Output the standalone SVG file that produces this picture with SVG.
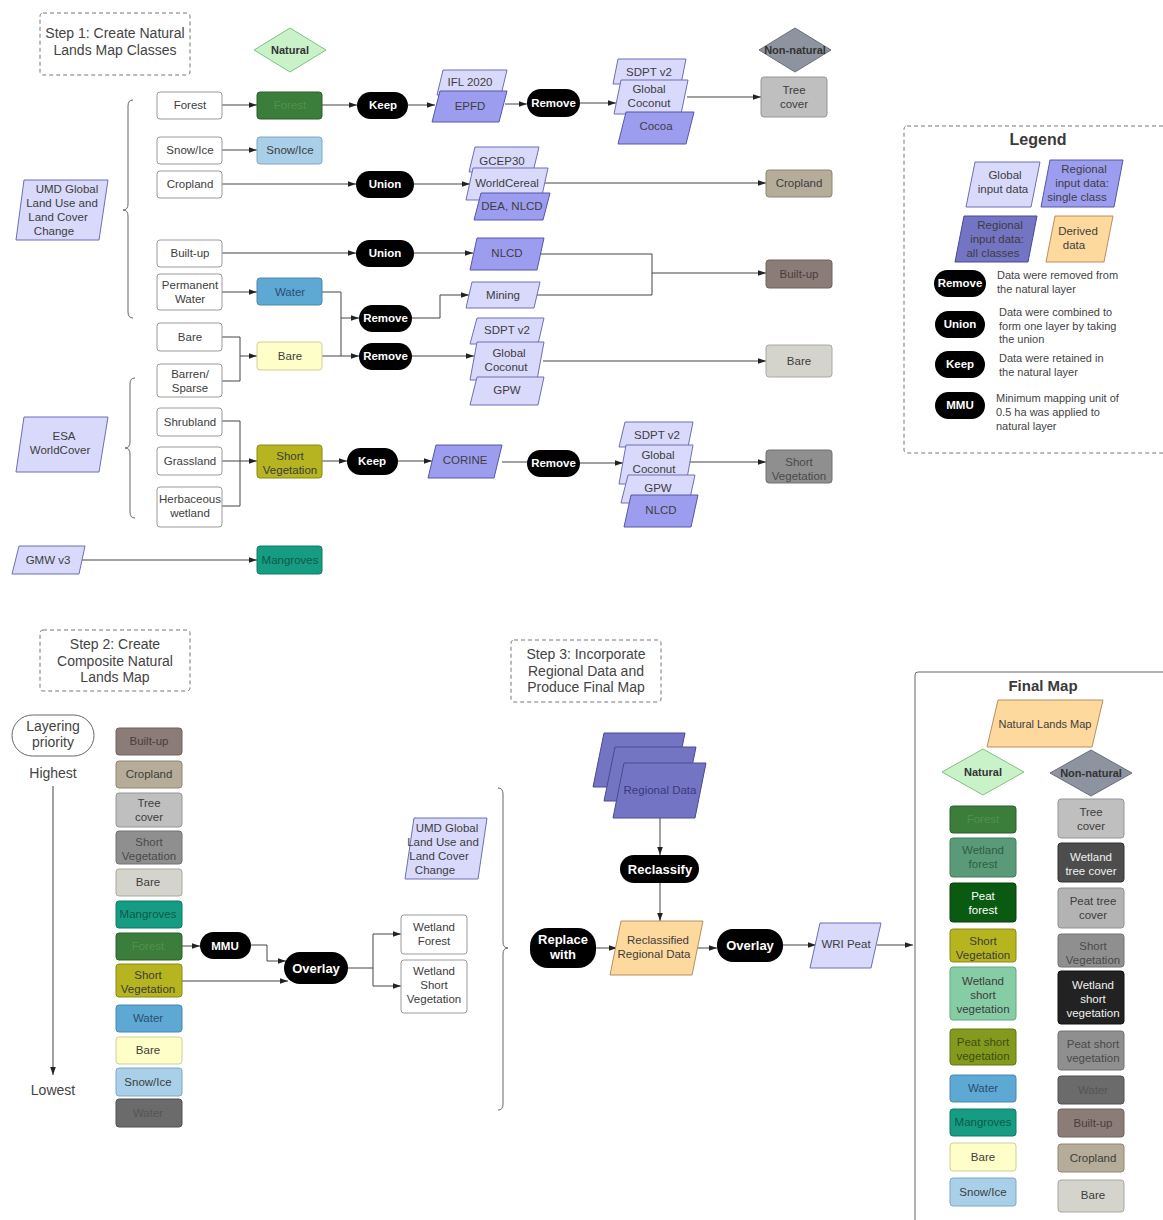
<svg xmlns="http://www.w3.org/2000/svg" width="1163" height="1220" viewBox="0 0 1163 1220">
<defs>
<marker id="ah" viewBox="0 0 10 10" refX="10" refY="5" markerWidth="8" markerHeight="8" orient="auto" markerUnits="userSpaceOnUse"><path d="M0,1.5 L10,5 L0,8.5 z" fill="#222"/></marker>
<style>
text{font-family:"Liberation Sans",Arial,sans-serif;font-size:11.5px;fill:#3d3d3d;text-anchor:middle}
.st{font-size:14px;fill:#444}
.lt{text-anchor:start;font-size:11px;fill:#444}
.w{fill:#fff;font-weight:bold;font-size:11.5px}
.bd{font-weight:bold;font-size:11px;fill:#333}
.h{font-weight:bold;font-size:16px;fill:#3a3a3a}
.box{fill:#fff;stroke:#9a9a9a}
.pill{fill:#000}
.glob{fill:#d9d9fb;stroke:#6e6eb4;stroke-linejoin:round}
.reg{fill:#9d9df0;stroke:#5656a8;stroke-linejoin:round}
.all{fill:#7474c4;stroke:#4a4a90;stroke-linejoin:round}
.der{fill:#fdd99e;stroke:#b4915e;stroke-linejoin:round}
.dash{fill:none;stroke:#777;stroke-dasharray:4 3}
.c{fill:none;stroke:#444;stroke-width:1}
.a{marker-end:url(#ah)}
.brace{fill:none;stroke:#666;stroke-width:1}
.forest{fill:#3b7d3a;stroke:#2d5e2c}
.snow{fill:#a9cfe9;stroke:#7fa8c8}
.water{fill:#5ea8d4;stroke:#4a88b0}
.bareY{fill:#fefec9;stroke:#cfcf96}
.sv{fill:#b6b51f;stroke:#8a8a10}
.mang{fill:#169c82;stroke:#0f7a64}
.tree{fill:#bfbfbf;stroke:#959595}
.crop{fill:#b5ac99;stroke:#8f8672}
.built{fill:#8c7c77;stroke:#6f625e}
.bareG{fill:#d4d4cc;stroke:#a8a8a0}
.svG{fill:#8f8f8f;stroke:#707070}
.waterG{fill:#6b6b6b;stroke:#505050}
</style>
</defs>
<rect width="1163" height="1220" fill="#fff"/>

<!-- Step 1 title -->
<g id="step1">
<rect class="dash" x="40" y="13" width="150" height="62" rx="3"/>
<text class="st" x="115" y="38">Step 1: Create Natural</text>
<text class="st" x="115" y="55">Lands Map Classes</text>
</g>
<g id="natural-top"><polygon points="254,50 290,28 326,50 290,72" fill="#c9f2c9" stroke="#80c080"/><text class="bd" x="290" y="54">Natural</text></g>
<g id="nonnatural-top"><polygon points="759,50 795,28 831,50 795,72" fill="#8e949f" stroke="#6a707a"/><text class="bd" x="795" y="54">Non-natural</text></g>

<!-- Connectors -->
<g id="connectors">
<path class="c a" d="M222,105 H257"/>
<path class="c a" d="M322,105 H357"/>
<path class="c a" d="M408,105 H435"/>
<path class="c a" d="M505,104 H527"/>
<path class="c a" d="M580,103 H616"/>
<path class="c a" d="M687,97 H761"/>
<path class="c a" d="M222,150 H257"/>
<path class="c a" d="M222,184 H356"/>
<path class="c a" d="M414,184 H470"/>
<path class="c a" d="M545,183 H766"/>
<path class="c a" d="M222,253 H356"/>
<path class="c a" d="M414,253 H473"/>
<path class="c a" d="M540,254 H652 V273 H766"/>
<path class="c" d="M536,295 H652 V273"/>
<path class="c a" d="M222,292 H257"/>
<path class="c a" d="M322,292 H341 V318 H359"/>
<path class="c a" d="M322,356 H359"/>
<path class="c" d="M341,356 V318"/>
<path class="c" d="M222,337 H240 V381 H222"/>
<path class="c a" d="M240,356 H257"/>
<path class="c a" d="M412,318 H440 V295 H469"/>
<path class="c a" d="M412,356 H474"/>
<path class="c a" d="M543,361 H766"/>
<path class="c" d="M222,421 H240 V506 H222"/>
<path class="c a" d="M222,461 H257"/>
<path class="c a" d="M322,461 H347"/>
<path class="c a" d="M398,461 H432"/>
<path class="c" d="M502,462 H527"/>
<path class="c a" d="M580,463 H623"/>
<path class="c a" d="M690,462 H766"/>
<path class="c a" d="M82,560 H257"/>
<!-- step 2 -->
<path class="c a" d="M53,786 V1075"/>
<path class="c a" d="M182,946 H200"/>
<path class="c a" d="M251,945 H267 V961 H286"/>
<path class="c a" d="M182,981 H288"/>
<path class="c" d="M348,968 H373"/>
<path class="c a" d="M373,968 V934 H401"/>
<path class="c a" d="M373,968 V986 H401"/>
<!-- step 3 -->
<path class="c a" d="M660,818 V855"/>
<path class="c a" d="M660,883 V921"/>
<path class="c a" d="M596,948 H617"/>
<path class="c a" d="M697,948 H717"/>
<path class="c a" d="M783,945 H816"/>
<path class="c a" d="M877,945 H913"/>
</g>

<!-- braces -->
<g id="braces">
<path class="brace" d="M133,100 Q128,100 128,106 L128,204 Q128,210 123,210 Q128,210 128,216 L128,312 Q128,318 133,318"/>
<path class="brace" d="M135,378 Q130,378 130,384 L130,442 Q130,448 125,448 Q130,448 130,454 L130,512 Q130,518 135,518"/>
<path class="brace" d="M498,788 Q503,788 503,794 L503,942 Q503,948 508,948 Q503,948 503,954 L503,1104 Q503,1110 498,1110"/>
</g>

<!-- Sources -->
<g id="umd1"><polygon class="glob" points="24,180 108,180 99,240 16,240"/><text x="67" y="193">UMD Global</text><text x="62" y="207">Land Use and</text><text x="58" y="221">Land Cover</text><text x="54" y="235">Change</text></g>
<g id="esa"><polygon class="glob" points="24,417 108,417 99,472 16,472"/><text x="64" y="440">ESA</text><text x="60" y="454">WorldCover</text></g>
<g id="gmw"><polygon class="glob" points="19,546 85,546 79,574 12,574"/><text x="48" y="564">GMW v3</text></g>

<!-- White class boxes -->
<g id="c-forest"><rect class="box" x="157" y="92" width="65" height="27" rx="3"/><text x="190" y="109">Forest</text></g>
<g id="c-snow"><rect class="box" x="157" y="137" width="65" height="27" rx="3"/><text x="190" y="154">Snow/Ice</text></g>
<g id="c-crop"><rect class="box" x="157" y="171" width="65" height="27" rx="3"/><text x="190" y="188">Cropland</text></g>
<g id="c-built"><rect class="box" x="157" y="240" width="65" height="27" rx="3"/><text x="190" y="257">Built-up</text></g>
<g id="c-pwater"><rect class="box" x="157" y="274" width="65" height="36" rx="3"/><text x="190" y="289">Permanent</text><text x="190" y="303">Water</text></g>
<g id="c-bare"><rect class="box" x="157" y="323" width="65" height="28" rx="3"/><text x="190" y="341">Bare</text></g>
<g id="c-barren"><rect class="box" x="157" y="364" width="65" height="33" rx="3"/><text x="190" y="378">Barren/</text><text x="190" y="392">Sparse</text></g>
<g id="c-shrub"><rect class="box" x="157" y="408" width="65" height="28" rx="3"/><text x="190" y="426">Shrubland</text></g>
<g id="c-grass"><rect class="box" x="157" y="447" width="65" height="28" rx="3"/><text x="190" y="465">Grassland</text></g>
<g id="c-herb"><rect class="box" x="157" y="487" width="65" height="40" rx="3"/><text x="190" y="503">Herbaceous</text><text x="190" y="517">wetland</text></g>

<!-- Natural classes -->
<g id="n-forest"><rect class="forest" x="257" y="92" width="65" height="27" rx="3"/><text x="290" y="109" style="fill:#54904c">Forest</text></g>
<g id="n-snow"><rect class="snow" x="257" y="137" width="65" height="27" rx="3"/><text x="290" y="154">Snow/Ice</text></g>
<g id="n-water"><rect class="water" x="257" y="278" width="65" height="27" rx="3"/><text x="290" y="296" style="fill:#2b4e70">Water</text></g>
<g id="n-bare"><rect class="bareY" x="257" y="342" width="65" height="28" rx="3"/><text x="290" y="360">Bare</text></g>
<g id="n-sv"><rect class="sv" x="257" y="445" width="65" height="33" rx="3"/><text x="290" y="460">Short</text><text x="290" y="474">Vegetation</text></g>
<g id="n-mang"><rect class="mang" x="257" y="546" width="65" height="28" rx="3"/><text x="290" y="564" style="fill:#0f5a4a">Mangroves</text></g>

<!-- Operations -->
<g id="op-keep1"><rect class="pill" x="357" y="92" width="51" height="27" rx="13.5"/><text class="w" x="383" y="109">Keep</text></g>
<g id="op-union1"><rect class="pill" x="356" y="171" width="58" height="27" rx="13.5"/><text class="w" x="385" y="188">Union</text></g>
<g id="op-union2"><rect class="pill" x="356" y="240" width="58" height="27" rx="13.5"/><text class="w" x="385" y="257">Union</text></g>
<g id="op-remove1"><rect class="pill" x="359" y="305" width="53" height="27" rx="13.5"/><text class="w" x="385.5" y="322">Remove</text></g>
<g id="op-remove2"><rect class="pill" x="359" y="343" width="53" height="27" rx="13.5"/><text class="w" x="385.5" y="360">Remove</text></g>
<g id="op-keep2"><rect class="pill" x="347" y="448" width="51" height="27" rx="13.5"/><text class="w" x="372" y="465">Keep</text></g>
<g id="op-remove3"><rect class="pill" x="527" y="89" width="53" height="28" rx="14"/><text class="w" x="553.5" y="107">Remove</text></g>
<g id="op-remove4"><rect class="pill" x="527" y="450" width="53" height="27" rx="13.5"/><text class="w" x="553.5" y="467">Remove</text></g>

<!-- Datasets -->
<g id="d-ifl"><polygon class="glob" points="443,70 507,70 501,95 437,95"/><text x="470" y="86">IFL 2020</text></g>
<g id="d-epfd"><polygon class="reg" points="440,91 507,91 499,122 432,122"/><text x="470" y="110">EPFD</text></g>
<g id="d-sdpt1"><polygon class="glob" points="618,59 686,59 681,84 613,84"/><text x="649" y="76">SDPT v2</text></g>
<g id="d-coco1"><polygon class="glob" points="621,80 688,80 681,114 614,114"/><text x="649" y="93">Global</text><text x="649" y="107">Coconut</text></g>
<g id="d-cocoa"><polygon class="reg" points="626,112 694,112 686,144 618,144"/><text x="656" y="130">Cocoa</text></g>
<g id="d-gcep"><polygon class="glob" points="475,147 539,147 533,172 469,172"/><text x="502" y="165">GCEP30</text></g>
<g id="d-wc"><polygon class="glob" points="473,168 548,168 541,200 466,200"/><text x="507" y="187">WorldCereal</text></g>
<g id="d-dea"><polygon class="reg" points="481,193 550,193 543,220 474,220"/><text x="512" y="210">DEA, NLCD</text></g>
<g id="d-nlcd1"><polygon class="reg" points="477,238 544,238 537,270 470,270"/><text x="507" y="257">NLCD</text></g>
<g id="d-mining"><polygon class="glob" points="472,282 540,282 534,308 466,308"/><text x="503" y="299">Mining</text></g>
<g id="d-sdpt2"><polygon class="glob" points="477,318 544,318 538,344 470,344"/><text x="507" y="334">SDPT v2</text></g>
<g id="d-coco2"><polygon class="glob" points="477,342 544,342 537,380 470,380"/><text x="509" y="357">Global</text><text x="506" y="371">Coconut</text></g>
<g id="d-gpw1"><polygon class="glob" points="477,377 544,377 538,405 470,405"/><text x="507" y="394">GPW</text></g>
<g id="d-corine"><polygon class="reg" points="436,445 502,445 494,478 428,478"/><text x="465" y="464">CORINE</text></g>
<g id="d-sdpt3"><polygon class="glob" points="625,422 693,422 688,447 619,447"/><text x="657" y="439">SDPT v2</text></g>
<g id="d-coco3"><polygon class="glob" points="626,445 693,445 686,484 619,484"/><text x="658" y="459">Global</text><text x="654" y="473">Coconut</text></g>
<g id="d-gpw2"><polygon class="glob" points="628,475 695,475 689,503 621,503"/><text x="658" y="492">GPW</text></g>
<g id="d-nlcd2"><polygon class="reg" points="631,495 698,495 691,527 624,527"/><text x="661" y="514">NLCD</text></g>

<!-- Non-natural outputs -->
<g id="o-tree"><rect class="tree" x="761" y="77" width="66" height="40" rx="3"/><text x="794" y="94">Tree</text><text x="794" y="108">cover</text></g>
<g id="o-crop"><rect class="crop" x="766" y="170" width="66" height="27" rx="3"/><text x="799" y="187">Cropland</text></g>
<g id="o-built"><rect class="built" x="766" y="260" width="66" height="28" rx="3"/><text x="799" y="278" style="fill:#4a3c3c">Built-up</text></g>
<g id="o-bare"><rect class="bareG" x="766" y="345" width="66" height="32" rx="3"/><text x="799" y="365">Bare</text></g>
<g id="o-sv"><rect class="svG" x="766" y="450" width="66" height="33" rx="3"/><text x="799" y="466" style="fill:#4a4a4a">Short</text><text x="799" y="480" style="fill:#4a4a4a">Vegetation</text></g>

<!-- Legend -->
<g id="legend">
<rect class="dash" x="904" y="126" width="270" height="327" rx="3"/>
<text class="h" x="1038" y="145">Legend</text>
<polygon class="glob" points="975,162 1040,162 1031,207 966,207"/><text x="1005" y="179">Global</text><text x="1003" y="193">input data</text>
<polygon class="reg" points="1050,160 1123,160 1114,207 1041,207"/><text x="1084" y="173">Regional</text><text x="1082" y="187">input data:</text><text x="1077" y="201">single class</text>
<polygon class="all" points="964,216 1037,216 1028,262 955,262"/><text x="1000" y="229">Regional</text><text x="997" y="243">input data:</text><text x="993" y="257">all classes</text>
<polygon class="der" points="1055,216 1113,216 1104,262 1046,262"/><text x="1078" y="235">Derived</text><text x="1074" y="249">data</text>
<rect class="pill" x="934" y="270" width="52" height="27" rx="13.5"/><text class="w" x="960" y="287">Remove</text>
<text class="lt" x="997" y="279">Data were removed from</text><text class="lt" x="997" y="293">the natural layer</text>
<rect class="pill" x="935" y="311" width="50" height="27" rx="13.5"/><text class="w" x="960" y="328">Union</text>
<text class="lt" x="999" y="316">Data were combined to</text><text class="lt" x="999" y="330">form one layer by taking</text><text class="lt" x="999" y="343">the union</text>
<rect class="pill" x="935" y="351" width="50" height="27" rx="13.5"/><text class="w" x="960" y="368">Keep</text>
<text class="lt" x="999" y="362">Data were retained in</text><text class="lt" x="999" y="376">the natural layer</text>
<rect class="pill" x="935" y="392" width="50" height="27" rx="13.5"/><text class="w" x="960" y="409">MMU</text>
<text class="lt" x="996" y="402">Minimum mapping unit of</text><text class="lt" x="996" y="416">0.5 ha was applied to</text><text class="lt" x="996" y="430">natural layer</text>
</g>

<!-- Step 2 -->
<g id="step2">
<rect class="dash" x="40" y="630" width="150" height="61" rx="3"/>
<text class="st" x="115" y="649">Step 2: Create</text>
<text class="st" x="115" y="666">Composite Natural</text>
<text class="st" x="115" y="682">Lands Map</text>
</g>
<g id="layering"><rect x="12" y="715" width="82" height="41" rx="20.5" fill="#fff" stroke="#666"/><text class="st" x="53" y="731">Layering</text><text class="st" x="53" y="747">priority</text></g>
<text class="st" x="53" y="778">Highest</text>
<text class="st" x="53" y="1095">Lowest</text>

<g id="p-built"><rect class="built" x="116" y="728" width="66" height="27" rx="3"/><text x="149" y="745" style="fill:#4a3c3c">Built-up</text></g>
<g id="p-crop"><rect class="crop" x="116" y="761" width="66" height="27" rx="3"/><text x="149" y="778">Cropland</text></g>
<g id="p-tree"><rect class="tree" x="116" y="793" width="66" height="34" rx="3"/><text x="149" y="807">Tree</text><text x="149" y="821">cover</text></g>
<g id="p-svg"><rect class="svG" x="116" y="831" width="66" height="33" rx="3"/><text x="149" y="846" style="fill:#4a4a4a">Short</text><text x="149" y="860" style="fill:#4a4a4a">Vegetation</text></g>
<g id="p-bareg"><rect class="bareG" x="116" y="869" width="66" height="27" rx="3"/><text x="148" y="886">Bare</text></g>
<g id="p-mang"><rect class="mang" x="116" y="901" width="66" height="27" rx="3"/><text x="148" y="918" style="fill:#0f5a4a">Mangroves</text></g>
<g id="p-forest"><rect class="forest" x="116" y="933" width="66" height="27" rx="3"/><text x="148" y="950" style="fill:#54904c">Forest</text></g>
<g id="p-sv"><rect class="sv" x="116" y="964" width="66" height="33" rx="3"/><text x="148" y="979">Short</text><text x="148" y="993">Vegetation</text></g>
<g id="p-water"><rect class="water" x="116" y="1005" width="66" height="27" rx="3"/><text x="148" y="1022" style="fill:#2b4e70">Water</text></g>
<g id="p-bare"><rect class="bareY" x="116" y="1037" width="66" height="27" rx="3"/><text x="148" y="1054">Bare</text></g>
<g id="p-snow"><rect class="snow" x="116" y="1068" width="66" height="28" rx="3"/><text x="148" y="1086">Snow/Ice</text></g>
<g id="p-waterg"><rect class="waterG" x="116" y="1099" width="66" height="28" rx="3"/><text x="148" y="1117" style="fill:#555">Water</text></g>

<g id="op-mmu"><rect class="pill" x="200" y="932" width="51" height="27" rx="13.5"/><text class="w" x="225" y="950">MMU</text></g>
<g id="op-overlay1"><rect class="pill" x="284" y="952" width="64" height="32" rx="16"/><text class="w" x="316" y="973" style="font-size:13px">Overlay</text></g>
<g id="wf"><rect class="box" x="401" y="915" width="66" height="39" rx="3"/><text x="434" y="931">Wetland</text><text x="434" y="945">Forest</text></g>
<g id="wsv"><rect class="box" x="401" y="960" width="66" height="53" rx="3"/><text x="434" y="975">Wetland</text><text x="434" y="989">Short</text><text x="434" y="1003">Vegetation</text></g>
<g id="umd2"><polygon class="glob" points="414,818 487,818 478,879 405,879"/><text x="447" y="832">UMD Global</text><text x="443" y="846">Land Use and</text><text x="439" y="860">Land Cover</text><text x="435" y="874">Change</text></g>

<!-- Step 3 -->
<g id="step3">
<rect class="dash" x="511" y="640" width="150" height="62" rx="3"/>
<text class="st" x="586" y="659">Step 3: Incorporate</text>
<text class="st" x="586" y="676">Regional Data and</text>
<text class="st" x="586" y="692">Produce Final Map</text>
</g>
<g id="regional">
<polygon class="all" points="604,733 685,733 674,787 593,787"/>
<polygon class="all" points="615,747 696,747 685,801 604,801"/>
<polygon class="all" points="624,763 706,763 695,818 613,818"/>
<text x="660" y="794" style="fill:#3a3a80">Regional Data</text>
</g>
<g id="op-reclass"><rect class="pill" x="620" y="855" width="79" height="28" rx="14"/><text class="w" x="660" y="874" style="font-size:13px">Reclassify</text></g>
<g id="reclassified"><polygon class="der" points="621,921 703,921 692,975 610,975"/><text x="658" y="944">Reclassified</text><text x="654" y="958">Regional Data</text></g>
<g id="op-replace"><rect class="pill" x="530" y="928" width="66" height="40" rx="18"/><text class="w" x="563" y="944" style="font-size:13px">Replace</text><text class="w" x="563" y="959" style="font-size:13px">with</text></g>
<g id="op-overlay2"><rect class="pill" x="717" y="929" width="66" height="33" rx="16"/><text class="w" x="750" y="950" style="font-size:13px">Overlay</text></g>
<g id="wri"><polygon class="glob" points="820,923 881,923 871,968 810,968"/><text x="846" y="948">WRI Peat</text></g>

<!-- Final map -->
<g id="finalmap">
<rect x="915" y="672" width="270" height="570" rx="3" fill="none" stroke="#666"/>
<text x="1043" y="691" style="font-weight:bold;font-size:15px;fill:#3a3a3a">Final Map</text>
</g>
<g id="nlm"><polygon class="der" points="998,700 1103,700 1092,747 987,747"/><text x="1045" y="728" style="font-size:11px">Natural Lands Map</text></g>
<g id="natural-f"><polygon points="942,772 983,749 1024,772 983,795" fill="#c9f2c9" stroke="#80c080"/><text class="bd" x="983" y="776">Natural</text></g>
<g id="nonnatural-f"><polygon points="1050,773 1091,750 1132,773 1091,796" fill="#8e949f" stroke="#6a707a"/><text class="bd" x="1091" y="777">Non-natural</text></g>

<g id="f-forest"><rect class="forest" x="950" y="806" width="66" height="27" rx="3"/><text x="983" y="823" style="fill:#54904c">Forest</text></g>
<g id="f-wforest"><rect x="950" y="838" width="66" height="39" rx="3" fill="#5a9a78" stroke="#447a5e"/><text x="983" y="854" style="fill:#2e5e45">Wetland</text><text x="983" y="868" style="fill:#2e5e45">forest</text></g>
<g id="f-pforest"><rect x="950" y="883" width="66" height="39" rx="3" fill="#0b5a12" stroke="#063e0a"/><text x="983" y="900" style="fill:#fff">Peat</text><text x="983" y="914" style="fill:#fff">forest</text></g>
<g id="f-sv"><rect class="sv" x="950" y="929" width="66" height="33" rx="3"/><text x="983" y="945">Short</text><text x="983" y="959">Vegetation</text></g>
<g id="f-wsv"><rect x="950" y="967" width="66" height="53" rx="3" fill="#86cca4" stroke="#62a882"/><text x="983" y="985">Wetland</text><text x="983" y="999">short</text><text x="983" y="1013">vegetation</text></g>
<g id="f-psv"><rect x="950" y="1029" width="66" height="36" rx="3" fill="#849a1e" stroke="#627614"/><text x="983" y="1046" style="fill:#3e4e10">Peat short</text><text x="983" y="1060" style="fill:#3e4e10">vegetation</text></g>
<g id="f-water"><rect class="water" x="950" y="1075" width="66" height="27" rx="3"/><text x="983" y="1092" style="fill:#2b4e70">Water</text></g>
<g id="f-mang"><rect class="mang" x="950" y="1109" width="66" height="27" rx="3"/><text x="983" y="1126" style="fill:#0f5a4a">Mangroves</text></g>
<g id="f-bare"><rect class="bareY" x="950" y="1143" width="66" height="28" rx="3"/><text x="983" y="1161">Bare</text></g>
<g id="f-snow"><rect class="snow" x="950" y="1178" width="66" height="28" rx="3"/><text x="983" y="1196">Snow/Ice</text></g>

<g id="g-tree"><rect class="tree" x="1058" y="799" width="66" height="39" rx="3"/><text x="1091" y="816">Tree</text><text x="1091" y="830">cover</text></g>
<g id="g-wtree"><rect x="1058" y="843" width="66" height="39" rx="3" fill="#4d4d4d" stroke="#333"/><text x="1091" y="861" style="fill:#f0f0f0">Wetland</text><text x="1091" y="875" style="fill:#f0f0f0">tree cover</text></g>
<g id="g-ptree"><rect x="1058" y="888" width="66" height="40" rx="3" fill="#b3b3b3" stroke="#909090"/><text x="1093" y="905">Peat tree</text><text x="1093" y="919">cover</text></g>
<g id="g-sv"><rect class="svG" x="1058" y="934" width="66" height="33" rx="3"/><text x="1093" y="950" style="fill:#4a4a4a">Short</text><text x="1093" y="964" style="fill:#4a4a4a">Vegetation</text></g>
<g id="g-wsv"><rect x="1058" y="971" width="66" height="53" rx="3" fill="#222" stroke="#111"/><text x="1093" y="989" style="fill:#f0f0f0">Wetland</text><text x="1093" y="1003" style="fill:#f0f0f0">short</text><text x="1093" y="1017" style="fill:#f0f0f0">vegetation</text></g>
<g id="g-psv"><rect class="svG" x="1058" y="1031" width="66" height="39" rx="3"/><text x="1093" y="1048" style="fill:#4a4a4a">Peat short</text><text x="1093" y="1062" style="fill:#4a4a4a">vegetation</text></g>
<g id="g-water"><rect class="waterG" x="1058" y="1076" width="66" height="28" rx="3"/><text x="1093" y="1094" style="fill:#555">Water</text></g>
<g id="g-built"><rect class="built" x="1058" y="1109" width="66" height="28" rx="3"/><text x="1093" y="1127" style="fill:#4a3c3c">Built-up</text></g>
<g id="g-crop"><rect class="crop" x="1058" y="1144" width="66" height="28" rx="3"/><text x="1093" y="1162">Cropland</text></g>
<g id="g-bare"><rect class="bareG" x="1058" y="1180" width="66" height="32" rx="3"/><text x="1093" y="1199">Bare</text></g>
</svg>
